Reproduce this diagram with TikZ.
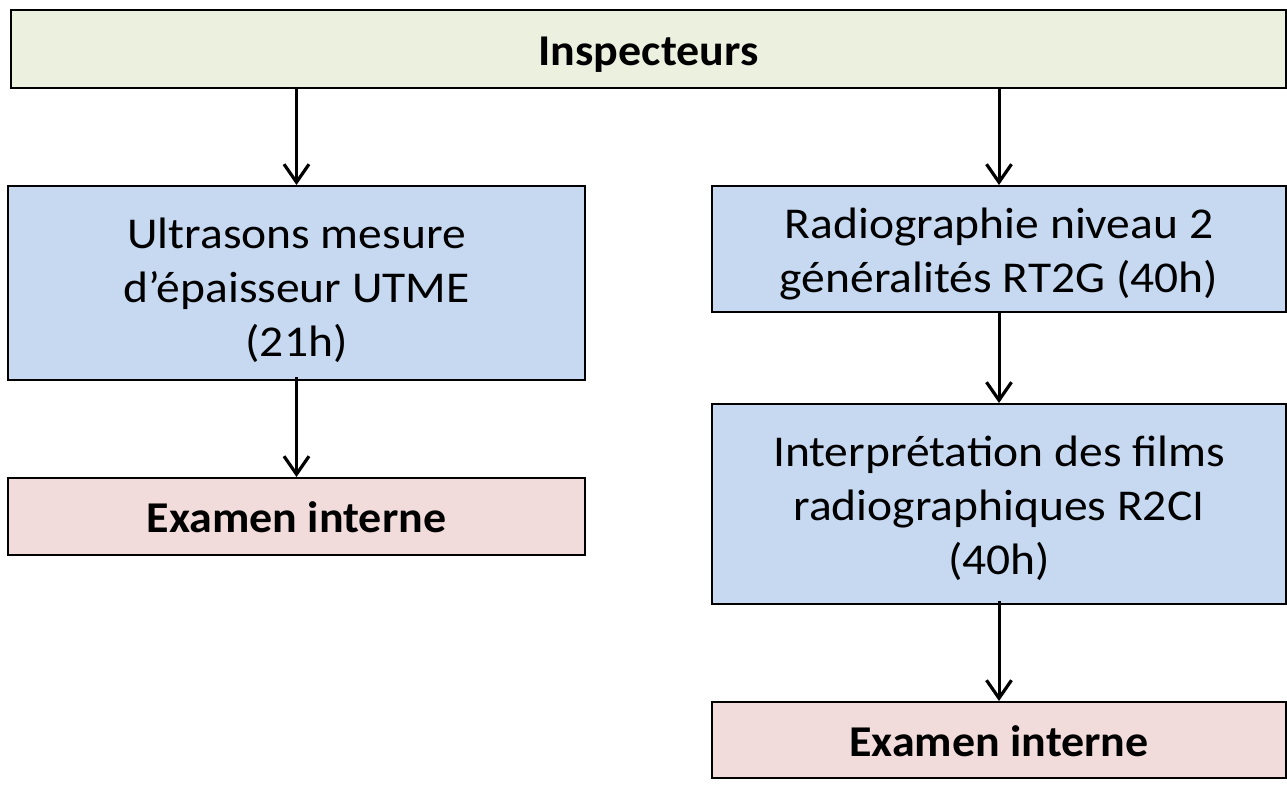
\documentclass[tikz,border=0pt]{standalone}
\usepackage{fontspec}
\setmainfont{Carlito}[FakeStretch=1.08]
\newfontfamily\boldlabel{Carlito}[FakeStretch=1.045]
\usetikzlibrary{arrows.meta}
\definecolor{headfill}{HTML}{EBF1DE}
\definecolor{stepfill}{HTML}{C6D9F1}
\definecolor{examfill}{HTML}{F2DCDB}
\tikzset{
  box/.style={draw=black, line width=2pt, rectangle, inner sep=0pt},
  headbox/.style={box, fill=headfill},
  stepbox/.style={box, fill=stepfill},
  exambox/.style={box, fill=examfill},
  plaintext/.style={align=center, inner sep=0pt, font=\fontsize{44}{54}\selectfont},
  boldtext/.style={align=center, inner sep=0pt, font=\fontsize{44}{54}\boldlabel\bfseries},
  flow/.style={line width=3pt, -{Straight Barb[length=18pt, width=25pt, line width=3.2pt]}},
}
\begin{document}
\begin{tikzpicture}[x=1pt, y=-1pt]
  \useasboundingbox (0,0) rectangle (1287,785);
  % header
  \node[headbox, minimum width=1275pt, minimum height=78pt] (ins) at (648.5,49) {};
  \node[boldtext] (ins-t) at ([yshift=-6pt]ins.center) {Inspecteurs};
  % left branch
  \node[stepbox, minimum width=577pt, minimum height=194pt] (ut) at (296.5,283) {};
  \node[plaintext] (ut-t) at ([yshift=-7pt]ut.center)
    {Ultrasons mesure\\d’épaisseur UTME\\(21h)};
  \node[exambox, minimum width=577pt, minimum height=77pt] (exl) at (296.5,516.5) {};
  \node[boldtext] (exl-t) at ([yshift=-1pt]exl.center) {Examen interne};
  % right branch
  \node[stepbox, minimum width=574pt, minimum height=126pt] (rt) at (999,249) {};
  \node[plaintext] (rt-t) at ([yshift=-5pt]rt.center)
    {Radiographie niveau 2\\généralités RT2G (40h)};
  \node[stepbox, minimum width=574pt, minimum height=200pt] (ri) at (999,504) {};
  \node[plaintext] (ri-t) at ([yshift=-4pt]ri.center)
    {Interprétation des films\\radiographiques R2CI\\(40h)};
  \node[exambox, minimum width=574pt, minimum height=76pt] (exr) at (999,740) {};
  \node[boldtext] (exr-t) at ([yshift=-1pt]exr.center) {Examen interne};
  % connectors
  \draw[flow] (ut.north |- ins.south) -- (ut.north);
  \draw[flow] (rt.north |- ins.south) -- (rt.north);
  \draw[flow] ([yshift=4pt]ut.south) -- (exl.north);
  \draw[flow] (rt.south) -- (ri.north);
  \draw[flow] ([yshift=4pt]ri.south) -- (exr.north);
\end{tikzpicture}
\end{document}
